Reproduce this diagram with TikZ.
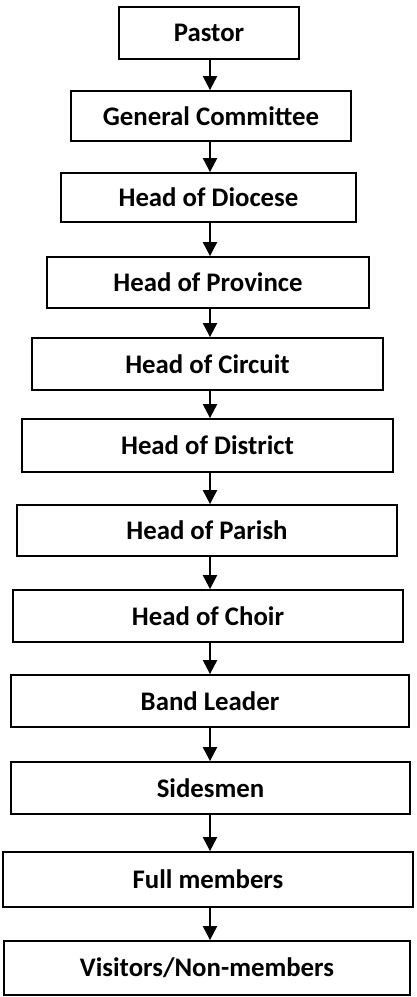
\documentclass[tikz,border=0pt]{standalone}
\usepackage{fontspec}
\setmainfont{Carlito}
\usetikzlibrary{arrows.meta}

\begin{document}
\begin{tikzpicture}[x=0.5pt,y=-0.5pt,
  level/.style={draw,line width=0.9pt,inner sep=0pt,font=\bfseries\fontsize{13.4}{15}\selectfont},
  down/.style={line width=1pt,-{Triangle[width=7pt,length=7pt]}}]
  \useasboundingbox (0,0) rectangle (417,997);
  \node[level,minimum width=90pt,minimum height=26pt] (pastor) at (209,33) {Pastor};
  \node[level,minimum width=140pt,minimum height=25pt] (general) at (211,116) {General Committee};
  \node[level,minimum width=147.5pt,minimum height=24.5pt] (diocese) at (208.5,197.5) {Head of Diocese};
  \node[level,minimum width=161pt,minimum height=25.5pt] (province) at (208,282.5) {Head of Province};
  \node[level,minimum width=175.5pt,minimum height=26pt] (circuit) at (207.5,364) {Head of Circuit};
  \node[level,minimum width=185.5pt,minimum height=26.5pt] (district) at (207.5,445.5) {Head of District};
  \node[level,minimum width=190pt,minimum height=25.5pt] (parish) at (207,530.5) {Head of Parish};
  \node[level,minimum width=195pt,minimum height=26pt] (choir) at (208,616) {Head of Choir};
  \node[level,minimum width=199pt,minimum height=26pt] (band) at (210,701) {Band Leader};
  \node[level,minimum width=199.5pt,minimum height=26pt] (sidesmen) at (210.5,788) {Sidesmen};
  \node[level,minimum width=205pt,minimum height=27.5pt] (full) at (208,879.5) {Full members};
  \node[level,minimum width=203pt,minimum height=27pt] (visitors) at (207,968) {Visitors/Non-members};
  % arrows down the chain
  \foreach \a/\b in {pastor/general,general/diocese,diocese/province,province/circuit,
    circuit/district,district/parish,parish/choir,choir/band,band/sidesmen,
    sidesmen/full,full/visitors}
    \draw[down] (\a.south -| 210,0) -- (\b.north -| 210,0);
\end{tikzpicture}
\end{document}
